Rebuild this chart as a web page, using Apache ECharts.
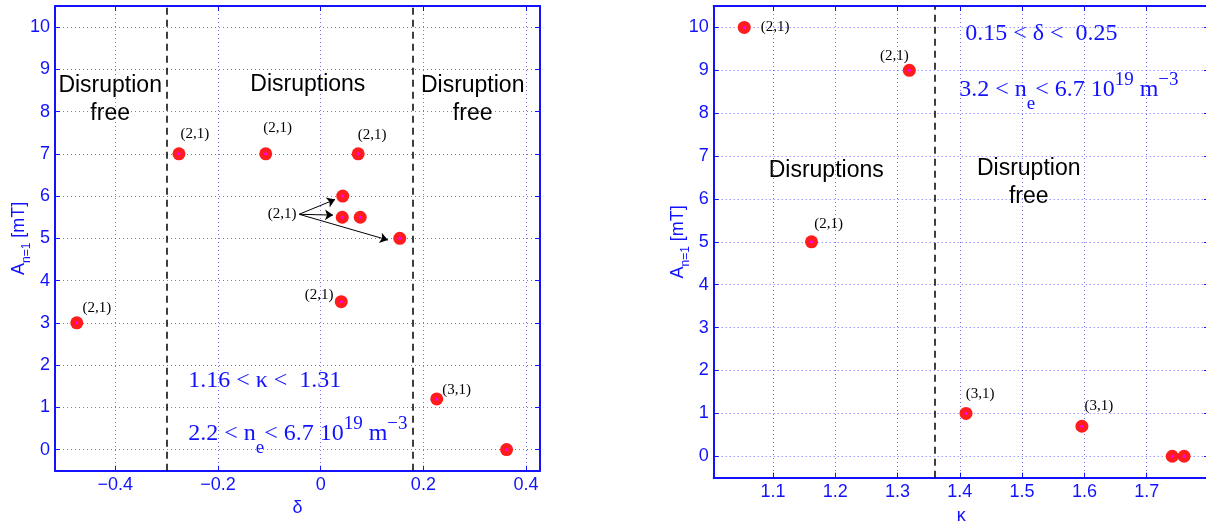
<!DOCTYPE html>
<html>
<head>
<meta charset="utf-8">
<script src="https://cdn.jsdelivr.net/npm/echarts@6/dist/echarts.min.js"></script>
<style>
  html, body { margin: 0; padding: 0; background: #ffffff; }
  #chart { width: 1206px; height: 524px; }
</style>
</head>
<body>
<div id="chart"></div>
<script>
// ---- data -------------------------------------------------------------

// Left panel: n=1 amplitude against triangularity delta
const deltaValues = [-0.475, -0.276, -0.107, 0.073, 0.043, 0.042, 0.077, 0.154, 0.040, 0.226, 0.362];
const ampVsDelta  = [3, 7, 7, 7, 6, 5.5, 5.5, 5, 3.5, 1.2, 0];
const modeVsDelta = ['(2,1)', '(2,1)', '(2,1)', '(2,1)', '', '', '', '', '(2,1)', '(3,1)', ''];
const deltaTicks  = [-0.4, -0.2, 0, 0.2, 0.4];
const deltaBounds = [-0.300, 0.176];

// Right panel: n=1 amplitude against elongation kappa
const kappaValues = [1.054, 1.319, 1.162, 1.410, 1.596, 1.741, 1.760];
const ampVsKappa  = [10, 9, 5, 1, 0.7, 0, 0];
const modeVsKappa = ['(2,1)', '(2,1)', '(2,1)', '(3,1)', '(3,1)', '', ''];
const kappaTicks  = [1.1, 1.2, 1.3, 1.4, 1.5, 1.6, 1.7];
const kappaBound  = [1.365];

const ampTicks = [0, 1, 2, 3, 4, 5, 6, 7, 8, 9, 10];

// ---- layout / style ----------------------------------------------------

const BLUE  = '#1212ff';
const RED   = '#ff1c1c';
const SANS  = '"Liberation Sans", Arial, Helvetica, sans-serif';
const SERIF = '"Liberation Serif", "Times New Roman", serif';

// pixel offsets of mode labels relative to their markers
const deltaLabelOffsets = [[20, -15], [16, -20], [12, -26], [14, -19], null, null, null, null, [-22, -7], [20, -9], null];
const kappaLabelOffsets = [[31, 0], [-15, -14], [17, -18], [14, -19], [17, -20], null, null];

// one "(2,1)" label shared by three points, with arrows
const sharedLabelAt = [-0.075, 5.57];
const arrowFrom = [-0.042, 5.57];
const arrowTo = [[0.028, 5.92], [0.024, 5.55], [0.131, 4.96]];

// region captions and parameter ranges (data coordinates)
const deltaNotes = [
  { kind: 'region', text: 'Disruption\nfree', at: [-0.410, 8.29] },
  { kind: 'region', text: 'Disruptions',      at: [-0.025, 8.63] },
  { kind: 'region', text: 'Disruption\nfree', at: [ 0.296, 8.29] },
  { kind: 'range',  text: '{m|1.16 < \u03ba <  1.31}', at: [-0.258, 1.82] },
  { kind: 'range',  text: '{m|2.2 < n}{sub|e}{m|< 6.7 10}{sup|19}{m| m}{sup|\u22123}', at: [-0.258, 0.56] }
];
const kappaNotes = [
  { kind: 'region', text: 'Disruptions',      at: [1.1856, 6.66] },
  { kind: 'region', text: 'Disruption\nfree', at: [1.5106, 6.38] },
  { kind: 'range',  text: '{m|0.15 < \u03b4 <  0.25}', at: [1.4087, 10.04] },
  { kind: 'range',  text: '{m|3.2 < n}{sub|e}{m|< 6.7 10}{sup|19}{m| m}{sup|\u22123}', at: [1.399, 8.74] }
];

const rangeRich = {
  m:   { fontFamily: SERIF, fontSize: 24, color: BLUE, lineHeight: 24, padding: [8, 0, 0, 0], verticalAlign: 'top' },
  sub: { fontFamily: SERIF, fontSize: 19, color: BLUE, lineHeight: 19, padding: [25, 0, 0, 0], verticalAlign: 'top' },
  sup: { fontFamily: SERIF, fontSize: 19, color: BLUE, lineHeight: 19, padding: [1, 0, 0, 0], verticalAlign: 'top' }
};

const fmtTick = v => (v < 0 ? '\u2212' : '') + String(Math.abs(v));

function axisCommon(ticks, extra) {
  return Object.assign({
    type: 'value',
    axisLine: { show: true, onZero: false, lineStyle: { color: BLUE, width: 2 } },
    axisTick: { show: true, inside: true, length: 5, customValues: ticks, lineStyle: { color: BLUE, width: 1 } },
    axisLabel: { show: true, customValues: ticks, color: BLUE, fontFamily: SANS, fontSize: 18, margin: 5, formatter: fmtTick },
    splitLine: { show: true, lineStyle: { color: 'rgba(50,50,255,0.7)', type: [1, 3], width: 1 } }
  }, extra);
}
function boxAxis(ticks, extra) {
  return Object.assign({
    type: 'value',
    axisLine: { show: true, onZero: false, lineStyle: { color: BLUE, width: 2 } },
    axisTick: { show: true, inside: true, length: 5, customValues: ticks, lineStyle: { color: BLUE, width: 1 } },
    axisLabel: { show: false },
    splitLine: { show: false }
  }, extra);
}

const yName = '{a|A}{s|n=1}{a| [mT]}';
const yNameStyle = {
  rich: {
    a: { fontFamily: SANS, fontSize: 18, color: BLUE, lineHeight: 19, verticalAlign: 'top' },
    s: { fontFamily: SANS, fontSize: 12, color: BLUE, lineHeight: 12, padding: [11, 0, 0, 0], verticalAlign: 'top' }
  }
};

const deltaRange = { min: -0.5174, max: 0.4271 };
const kappaRange = { min: 1.005, max: 1.800 };
const ampRange = { min: -0.5, max: 10.5 };

// ---- series builders ----------------------------------------------------

function markerSeries(xi, xs, ys, modes, offsets) {
  return {
    type: 'scatter', xAxisIndex: xi, yAxisIndex: xi, z: 5,
    symbol: 'circle', symbolSize: 13,
    itemStyle: { color: RED, opacity: 1 },
    label: { show: false, position: 'inside', color: '#000000', fontFamily: SERIF, fontSize: 15 },
    data: xs.map((x, i) => ({
      value: [x, ys[i]],
      label: modes[i] ? { show: true, formatter: modes[i], offset: offsets[i] } : { show: false }
    }))
  };
}
function centreSeries(xi, xs, ys) {
  return {
    type: 'scatter', xAxisIndex: xi, yAxisIndex: xi, z: 6, silent: true,
    symbol: 'circle', symbolSize: 3,
    itemStyle: { color: '#ff00ff', opacity: 1 },
    data: xs.map((x, i) => [x, ys[i]])
  };
}
function boundarySeries(xi, bounds) {
  return {
    type: 'line', xAxisIndex: xi, yAxisIndex: xi, data: [], silent: true,
    markLine: {
      silent: true, symbol: ['none', 'none'], animation: false,
      label: { show: false },
      lineStyle: { color: '#000000', type: [7, 5], width: 1.5 },
      data: bounds.map(v => ({ xAxis: v }))
    }
  };
}
function notesSeries(xi, notes) {
  return {
    type: 'scatter', xAxisIndex: xi, yAxisIndex: xi, z: 4, silent: true,
    symbolSize: 0,
    itemStyle: { opacity: 1 },
    data: notes.map(n => ({
      value: n.at,
      label: n.kind === 'region'
        ? { show: true, position: 'inside', formatter: n.text, align: 'center', verticalAlign: 'middle',
            color: '#000000', fontFamily: SANS, fontSize: 23, lineHeight: 28 }
        : { show: true, position: 'inside', formatter: n.text, align: 'left', verticalAlign: 'middle',
            rich: rangeRich }
    }))
  };
}

const option = {
  animation: false,
  backgroundColor: '#ffffff',
  grid: [
    { left: 55, top: 6, width: 485, height: 464.7, containLabel: false, outerBoundsMode: 'none' },
    { left: 713.7, top: 6, width: 495.3, height: 471.7, containLabel: false, outerBoundsMode: 'none' }
  ],
  xAxis: [
    axisCommon(deltaTicks, Object.assign({ gridIndex: 0, position: 'bottom',
      name: '\u03b4', nameLocation: 'middle', nameGap: 26,
      nameTextStyle: { color: BLUE, fontFamily: SANS, fontSize: 18 } }, deltaRange)),
    boxAxis(deltaTicks, Object.assign({ gridIndex: 0, position: 'top' }, deltaRange)),
    axisCommon(kappaTicks, Object.assign({ gridIndex: 1, position: 'bottom',
      name: '\u03ba', nameLocation: 'middle', nameGap: 29,
      nameTextStyle: { color: BLUE, fontFamily: SANS, fontSize: 18 } }, kappaRange)),
    boxAxis(kappaTicks, Object.assign({ gridIndex: 1, position: 'top' }, kappaRange))
  ],
  yAxis: [
    axisCommon(ampTicks, Object.assign({ gridIndex: 0, position: 'left',
      name: yName, nameLocation: 'middle', nameRotate: 90, nameGap: 26, nameMoveOverlap: false,
      nameTextStyle: yNameStyle }, ampRange)),
    boxAxis(ampTicks, Object.assign({ gridIndex: 0, position: 'right' }, ampRange)),
    axisCommon(ampTicks, Object.assign({ gridIndex: 1, position: 'left',
      name: yName, nameLocation: 'middle', nameRotate: 90, nameGap: 26, nameMoveOverlap: false,
      nameTextStyle: yNameStyle }, ampRange)),
    boxAxis(ampTicks, Object.assign({ gridIndex: 1, position: 'right' }, ampRange))
  ],
  series: [
    boundarySeries(0, deltaBounds),
    boundarySeries(2, kappaBound),
    {
      // arrows from the shared (2,1) label
      type: 'line', xAxisIndex: 0, yAxisIndex: 0, data: [], silent: true,
      markLine: {
        silent: true, animation: false,
        symbol: ['none', 'arrow'], symbolSize: 8,
        label: { show: false },
        lineStyle: { color: '#000000', type: 'solid', width: 1 },
        data: arrowTo.map(t => [{ coord: arrowFrom }, { coord: t }])
      }
    },
    {
      type: 'scatter', xAxisIndex: 0, yAxisIndex: 0, symbolSize: 0, silent: true,
      itemStyle: { opacity: 1 },
      data: [{ value: sharedLabelAt, label: { show: true, position: 'inside', formatter: '(2,1)',
        color: '#000000', fontFamily: SERIF, fontSize: 15 } }]
    },
    notesSeries(0, deltaNotes),
    notesSeries(2, kappaNotes),
    markerSeries(0, deltaValues, ampVsDelta, modeVsDelta, deltaLabelOffsets),
    centreSeries(0, deltaValues, ampVsDelta),
    markerSeries(2, kappaValues, ampVsKappa, modeVsKappa, kappaLabelOffsets),
    centreSeries(2, kappaValues, ampVsKappa)
  ]
};

const chart = echarts.init(document.getElementById('chart'), null, { renderer: 'canvas' });
chart.setOption(option);
</script>
</body>
</html>
